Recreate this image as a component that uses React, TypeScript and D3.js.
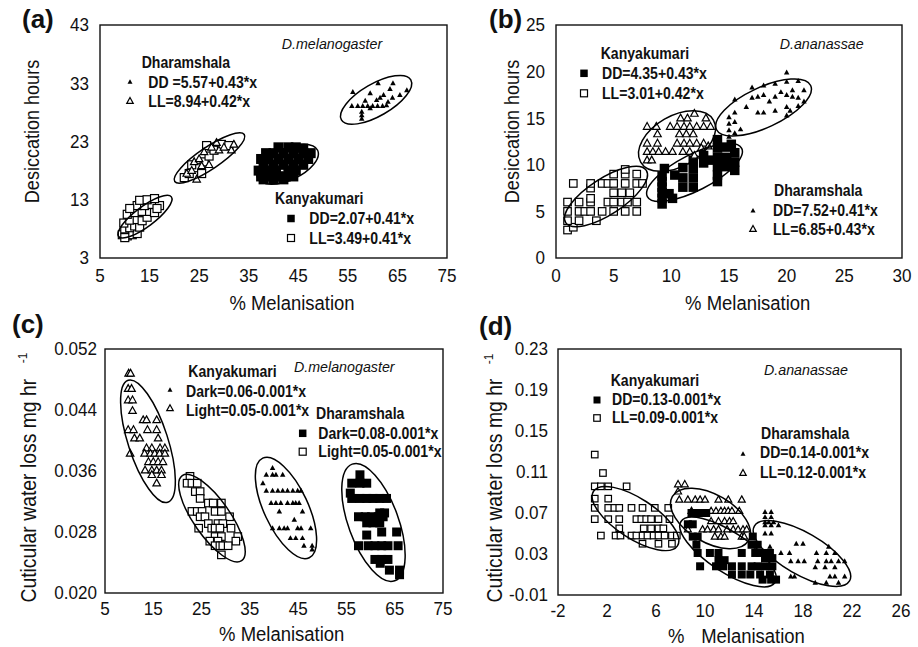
import React from "react";
import * as d3 from "d3";

type Pt = [number, number];
type Ell = [number, number, number, number, number]; // major-axis end points (data) + minor/major ratio

// ---------------- Panel (a): D.melanogaster, desiccation ----------------
const aXTicks = [5, 15, 25, 35, 45, 55, 65, 75];
const aYTicks = [3, 13, 23, 33, 43];
const aKanyakumariLL: Pt[] = [
  [9.5, 7], [10.5, 6.8], [11.5, 7], [12.5, 7.2], [10, 8], [11, 8.2], [12, 8.5], [13, 8.3], [9.8, 9], [11, 9.5],
  [12.5, 9.6], [13.5, 9.4], [14.5, 10], [10.5, 10.5], [12, 10.8], [13.5, 11], [15, 11], [16, 10.8], [12.5, 12],
  [14, 12], [15.5, 12.2], [17, 12], [13, 12.9], [14.5, 13], [16, 13.2], [16.5, 11.5], [11, 11.5], [10, 6.5],
  [22, 16.8], [23, 17.5], [24.5, 18.5], [26, 19.5], [25.5, 17.5], [27, 20.5], [28, 21.5], [29.5, 22.5], [31, 22.3],
  [26.5, 22.3], [23.5, 19],
];
const aDharamshalaLL: Pt[] = [
  [22.5, 17.5], [23.5, 18], [24, 19.5], [25, 20], [25.5, 18.8], [26, 21.2], [27, 19], [27.5, 22], [28.5, 22.8],
  [29, 21.5], [30, 22], [31.5, 21.5], [32, 22.5], [24.5, 16.5],
];
const aKanyakumariDD: Pt[] = [
  [41, 22], [43, 22], [44.5, 22], [46, 21.8], [38.5, 21], [40, 21], [42, 21], [44, 21], [46, 21], [47.5, 21],
  [37.5, 20], [39, 20], [41, 20], [43, 20], [45, 20], [47, 20], [38, 19], [40, 19], [42, 19], [44, 19], [46, 19],
  [37, 18], [38.5, 18], [40.5, 18], [43, 18], [44.5, 18], [37.5, 17], [39, 17], [41, 17], [42.5, 17], [44, 17],
  [38, 16.5], [40, 16.5], [42, 16.5],
];
const aDharamshalaDD: Pt[] = [
  [56, 31.5], [59.5, 31.3], [61.1, 33], [64.1, 33], [62.2, 31], [65.5, 31], [66.9, 31.8], [60.8, 30.1], [63.1, 29.8],
  [55.8, 29.1], [57, 29.1], [58, 29.1], [59, 29.1], [60, 29.1], [61, 29.1], [62, 29.1], [62.8, 29.2], [57.8, 28.1],
  [57.8, 27.5], [57.8, 26.9], [59.5, 28.7], [61.5, 30.5], [64, 30.5], [58.5, 30], [63.5, 32],
];
const aEllipses: Ell[] = [
  [8.75, 6.7, 19.4, 13.5, 0.3],
  [20.07, 16.13, 34.1, 24.2, 0.26],
  [36.8, 16.7, 48.9, 21.5, 0.48],
  [53.7, 26.7, 67.7, 33.6, 0.4],
];
const aSpecies = "D.melanogaster";
const aLegendDharamshala = ["Dharamshala", "DD =5.57+0.43*x", "LL=8.94+0.42*x"];
const aLegendKanyakumari = ["Kanyakumari", "DD=2.07+0.41*x", "LL=3.49+0.41*x"];

// ---------------- Panel (b): D.ananassae, desiccation ----------------
const bXTicks = [0, 5, 10, 15, 20, 25, 30];
const bYTicks = [0, 5, 10, 15, 20, 25];
const bKanyakumariLL: Pt[] = [
  [1, 3], [1.5, 3.3], [1, 4], [2, 4], [3.5, 4], [1, 5], [2, 5], [2.5, 5], [3, 5], [4, 5], [5, 5], [6, 5], [7, 5],
  [1, 6], [2, 6], [3, 6], [4.5, 6], [5, 6], [5.7, 6], [6.2, 6], [7, 6], [3, 6.4], [5, 7], [5.7, 7], [6.4, 7],
  [3, 7.5], [1.5, 8], [3, 8], [4, 8], [4.5, 8], [5, 8], [6, 8], [7, 8], [7.5, 8], [5, 9], [6, 9], [7, 9], [6, 9.5],
];
const bKanyakumariDD: Pt[] = [
  [9.2, 5.8], [9.2, 6.4], [9.2, 7], [9.2, 7.6], [9.2, 8.2], [9.2, 8.8], [9.4, 9.6], [9.8, 6.9], [10.1, 6.4],
  [10.3, 8.9], [11, 9.7], [11, 8.6], [11, 7.6], [11.9, 10.5], [11.9, 9.6], [11.9, 8.6], [11.9, 7.6], [12.8, 11],
  [12.8, 10.2], [14, 12.7], [14, 11.8], [14, 10.8], [14, 9.8], [14, 8.9], [14, 8.2], [14.8, 11.9], [14.8, 10.8],
  [14.8, 9.8], [15.5, 11.3], [15.5, 10.3], [15.5, 9.4], [13.4, 10.5], [15.2, 12.2],
];
const bDharamshalaLL: Pt[] = [
  [7.9, 14.1], [8.7, 14.1], [9.9, 14.1], [10.5, 14.1], [11.1, 14.1], [11.6, 14.1], [12.2, 14.1], [12.8, 14.1],
  [13.4, 14.1], [10.8, 15], [11.4, 15], [12, 15.5], [13, 15], [8.8, 13.3], [10.7, 13.3], [11.3, 13.3], [11.9, 13.3],
  [7.9, 12.3], [8.8, 12.3], [10.5, 12.3], [11.1, 12.3], [11.6, 12.3], [12.2, 12.3], [12.8, 12.3], [7.9, 11.4],
  [8.4, 11.4], [8.9, 11.4], [9.5, 11.4], [10.1, 11.4], [11, 11.4], [11.6, 11.4], [12.6, 11.8], [13.2, 12],
  [7.9, 10.5], [8.3, 10.5], [12, 11],
];
const bDharamshalaDD: Pt[] = [
  [15, 13], [15, 13.7], [15, 14.4], [15, 15.1], [15.5, 13.4], [15.5, 14.6], [15.5, 15.6], [15.5, 17], [16, 13.8],
  [16.5, 16.2], [17, 18.3], [17, 17.2], [17.5, 17.3], [17.5, 15.6], [18, 15.6], [18, 17.5], [18, 18.5], [18.5, 16.8],
  [19, 17.3], [19, 18.7], [19.5, 17.8], [20, 19.9], [20, 18.9], [20, 17.5], [20, 16.2], [20, 15.3], [20.5, 18],
  [20.5, 17.3], [21, 19], [21, 17.2], [21, 16.3], [21.5, 18], [21.5, 16.8], [20.3, 15.8], [19, 15.8],
];
const bEllipses: Ell[] = [
  [0.84, 3.79, 7.83, 9.41, 0.375],
  [7.92, 6.59, 16.1, 11.76, 0.34],
  [7.34, 10.3, 13.65, 14.8, 0.6],
  [13.91, 13.79, 22.08, 18.51, 0.385],
];
const bSpecies = "D.ananassae";
const bLegendKanyakumari = ["Kanyakumari", "DD=4.35+0.43*x", "LL=3.01+0.42*x"];
const bLegendDharamshala = ["Dharamshala", "DD=7.52+0.41*x", "LL=6.85+0.43*x"];

// ---------------- Panel (c): D.melanogaster, cuticular water loss ----------------
const cXTicks = [5, 15, 25, 35, 45, 55, 65, 75];
const cYTicks = [0.02, 0.028, 0.036, 0.044, 0.052];
const cKanyakumariLight: Pt[] = [
  [9.9, 0.0488], [10.3, 0.0488], [9.8, 0.0468], [10.5, 0.0468], [9.8, 0.0453], [10.7, 0.0453], [10.7, 0.0439],
  [12.9, 0.0427], [13.6, 0.0427], [15.7, 0.0427], [9.8, 0.0414], [10.9, 0.0414], [13.8, 0.0414], [15.7, 0.0414],
  [11.1, 0.0403], [12.2, 0.0403], [16, 0.0403], [13.6, 0.039], [14.7, 0.039], [16.4, 0.039], [17.4, 0.039],
  [10.2, 0.0383], [13.2, 0.0383], [14.4, 0.0383], [15.3, 0.0383], [16.3, 0.0383], [17.4, 0.0383], [14, 0.0372],
  [15, 0.0372], [16, 0.0372], [17, 0.0372], [13.3, 0.0361], [14.7, 0.0361], [15.7, 0.0361], [16.7, 0.0361],
  [14.7, 0.0355], [16.7, 0.0355], [15.7, 0.0344],
];
const cKanyakumariDark: Pt[] = [
  [39.7, 0.0364], [38.4, 0.0355], [39.7, 0.0355], [40.4, 0.0355], [41.8, 0.0355], [37.7, 0.0344], [38.4, 0.0334],
  [39.7, 0.0334], [40.8, 0.0334], [41.8, 0.0334], [42.8, 0.0334], [43.9, 0.0334], [44.9, 0.0334], [45.6, 0.0334],
  [39.4, 0.0318], [40.4, 0.0318], [41.4, 0.0318], [42.8, 0.0318], [43.9, 0.0318], [44.5, 0.0318], [45.2, 0.0318],
  [41.1, 0.0307], [45.9, 0.0307], [44.2, 0.0296], [39.7, 0.0285], [41.1, 0.0285], [42.1, 0.0285], [42.8, 0.0285],
  [44.9, 0.0285], [45.6, 0.0285], [47.6, 0.0285], [43.4, 0.0272], [44.5, 0.0272], [45.9, 0.0272], [46.2, 0.0262],
  [47.9, 0.0262], [47.9, 0.0257],
];
const cDharamshalaLight: Pt[] = [
  [22.6, 0.0353], [22.0, 0.0344], [23.0, 0.0344], [24.1, 0.0344], [23.7, 0.0333], [24.7, 0.0333], [24.7, 0.0324],
  [26.4, 0.0318], [27.4, 0.0318], [29.1, 0.0318], [23.0, 0.0307], [24.1, 0.0307], [25.1, 0.0307], [27.8, 0.0307],
  [29.1, 0.0307], [24.7, 0.03], [25.7, 0.03], [30.8, 0.03], [26.4, 0.0291], [28.4, 0.0291], [29.4, 0.0291],
  [24.4, 0.0285], [27.1, 0.0285], [27.8, 0.0285], [28.8, 0.0285], [31.1, 0.0285], [27.8, 0.0274], [29.1, 0.0274],
  [32.5, 0.0274], [26.7, 0.0268], [28.4, 0.0268], [32.1, 0.0268], [27.8, 0.0262], [28.8, 0.0262], [29.4, 0.0262],
  [30.5, 0.0262], [29.1, 0.025],
];
const cDharamshalaDark: Pt[] = [
  [57.8, 0.0355], [56.1, 0.0344], [57.8, 0.0344], [59.2, 0.0344], [55.8, 0.0331], [56.1, 0.0324], [57.8, 0.0324],
  [59.2, 0.0324], [60.5, 0.0324], [61.9, 0.0324], [63.3, 0.0324], [61.9, 0.0305], [62.9, 0.0305], [57.5, 0.03],
  [58.9, 0.03], [60.2, 0.03], [61.6, 0.03], [62.6, 0.03], [59.2, 0.0292], [60.5, 0.0292], [61.9, 0.0292],
  [62.3, 0.028], [65.4, 0.028], [59.2, 0.0276], [57.5, 0.0262], [59.5, 0.0262], [60.9, 0.0262], [62.3, 0.0262],
  [63.6, 0.0262], [65.7, 0.0262], [60.9, 0.0244], [62.3, 0.0244], [63.6, 0.0244], [62.0, 0.0239], [63.9, 0.023],
  [66, 0.023], [66, 0.0224],
];
const cEllipses: Ell[] = [
  [9.8, 0.0479, 18.0, 0.0319, 0.31],
  [21.0, 0.0354, 33.3, 0.02425, 0.35],
  [37.66, 0.03768, 47.3, 0.02462, 0.4],
  [56.2, 0.0369, 65.0, 0.0216, 0.403],
];
const cSpecies = "D.melanogaster";
const cLegendKanyakumari = ["Kanyakumari", "Dark=0.06-0.001*x", "Light=0.05-0.001*x"];
const cLegendDharamshala = ["Dharamshala", "Dark=0.08-0.001*x", "Light=0.05-0.001*x"];

// ---------------- Panel (d): D.ananassae, cuticular water loss ----------------
const dXTicks = [-2, 2, 6, 10, 14, 18, 22, 26];
const dYTicks = [-0.01, 0.03, 0.07, 0.11, 0.15, 0.19, 0.23];
const dKanyakumariLL: Pt[] = [
  [1.0, 0.127], [1.67, 0.109], [1.0, 0.096], [1.5, 0.096], [2.1, 0.096], [3.6, 0.096], [1.0, 0.084], [2.1, 0.084],
  [1.0, 0.075], [2.1, 0.075], [2.6, 0.075], [3.0, 0.075], [4.0, 0.075], [4.9, 0.075], [5.9, 0.075], [7.0, 0.075],
  [1.0, 0.064], [2.1, 0.064], [3.0, 0.064], [4.4, 0.064], [4.8, 0.064], [5.2, 0.064], [5.6, 0.064], [6.2, 0.064],
  [7.1, 0.064], [3.0, 0.055], [5.0, 0.055], [5.6, 0.055], [6.2, 0.055], [6.6, 0.055], [1.5, 0.048], [2.7, 0.048],
  [3.1, 0.048], [4.0, 0.048], [4.4, 0.048], [4.9, 0.048], [5.3, 0.048], [5.8, 0.048], [6.2, 0.048], [6.7, 0.048],
  [7.3, 0.048], [7.7, 0.048], [4.9, 0.04], [6.2, 0.04], [7.3, 0.04],
];
const dDharamshalaLL: Pt[] = [
  [7.8, 0.098], [8.35, 0.098], [7.8, 0.091], [7.9, 0.083], [8.6, 0.083], [9.2, 0.083], [9.6, 0.083], [10.0, 0.083],
  [11.1, 0.083], [11.9, 0.083], [13.0, 0.083], [8.9, 0.072], [10.5, 0.072], [10.9, 0.072], [11.3, 0.072],
  [11.6, 0.072], [11.9, 0.072], [12.2, 0.072], [12.8, 0.072], [10.5, 0.062], [11.1, 0.062], [11.6, 0.062],
  [12.0, 0.062], [12.3, 0.062], [8.6, 0.054], [9.8, 0.054], [10.2, 0.054], [10.7, 0.054], [11.1, 0.054],
  [11.8, 0.054], [12.3, 0.054], [12.7, 0.054], [13.1, 0.054], [13.4, 0.054], [10.8, 0.047], [11.3, 0.047],
  [11.6, 0.047], [13.0, 0.047], [13.2, 0.047],
];
const dKanyakumariDD: Pt[] = [
  [8.9, 0.07], [9.3, 0.07], [9.7, 0.07], [10.1, 0.07], [8.6, 0.059], [9.0, 0.059], [9.0, 0.047], [9.4, 0.047],
  [13.9, 0.047], [9.3, 0.039], [13.8, 0.039], [14.3, 0.039], [9.4, 0.031], [10.4, 0.031], [11.1, 0.031],
  [13.0, 0.031], [14.1, 0.031], [14.5, 0.031], [14.9, 0.031], [15.3, 0.031], [14.9, 0.026], [15.3, 0.026],
  [15.5, 0.026], [11.1, 0.024], [11.6, 0.024], [9.6, 0.018], [10.9, 0.018], [11.5, 0.018], [12.2, 0.018],
  [13.0, 0.018], [13.8, 0.018], [14.3, 0.018], [14.9, 0.018], [15.5, 0.018], [12.2, 0.01], [13.0, 0.01],
  [13.7, 0.01], [14.5, 0.01], [15.3, 0.01], [14.7, 0.005], [15.4, 0.005], [15.8, 0.005],
];
const dDharamshalaDD: Pt[] = [
  [14.9, 0.071], [15.4, 0.071], [14.9, 0.066], [15.4, 0.066], [14.9, 0.061], [15.2, 0.061], [15.6, 0.061],
  [14.9, 0.058], [15.4, 0.058], [16.0, 0.058], [14.9, 0.05], [15.4, 0.05], [17.45, 0.04], [18.0, 0.04],
  [15.3, 0.037], [20.1, 0.037], [16.2, 0.031], [16.9, 0.031], [19.1, 0.031], [19.9, 0.031], [20.6, 0.031],
  [17.0, 0.023], [17.6, 0.023], [18.1, 0.023], [19.2, 0.023], [19.9, 0.023], [20.3, 0.023], [20.9, 0.023],
  [21.4, 0.023], [19.0, 0.017], [19.8, 0.017], [20.6, 0.017], [17.0, 0.008], [17.3, 0.008], [20.2, 0.008],
  [20.6, 0.008], [21.4, 0.008], [19.0, 0.002], [19.9, 0.002], [20.9, 0.002],
];
const dEllipses: Ell[] = [
  [0.9, 0.0912, 7.75, 0.038, 0.4],
  [7.34, 0.0861, 13.56, 0.0432, 0.545],
  [8.04, 0.0617, 15.71, 0.0022, 0.357],
  [14.03, 0.0573, 21.8, 0.00366, 0.38],
];
const dSpecies = "D.ananassae";
const dLegendKanyakumari = ["Kanyakumari", "DD=0.13-0.001*x", "LL=0.09-0.001*x"];
const dLegendDharamshala = ["Dharamshala", "DD=0.14-0.001*x", "LL=0.12-0.001*x"];

const xTitle = "% Melanisation";
const yTitleDesiccation = "Desiccation hours";
const yTitleCuticular = "Cuticular water loss mg hr";
const yTitleSup = "-1";

// ---------------- rendering ----------------
const FONT = "'Liberation Sans', Arial, Helvetica, sans-serif";
const SX = 0.88; // horizontal condensation of the original narrow typeface
type Shape = "sqFill" | "sqOpen" | "triFill" | "triOpen";

function Marker({ shape, x, y, size }: { shape: Shape; x: number; y: number; size: number }) {
  if (shape === "sqFill") return <rect x={x - size / 2} y={y - size / 2} width={size} height={size} fill="#000" />;
  if (shape === "sqOpen")
    return <rect x={x - size / 2} y={y - size / 2} width={size} height={size} fill="#fff" stroke="#000" strokeWidth={1.2} />;
  const h = size * 0.9;
  const d = `M${x},${y - h * 0.6}L${x + size / 2},${y + h * 0.4}L${x - size / 2},${y + h * 0.4}Z`;
  if (shape === "triFill") return <path d={d} fill="#000" />;
  return <path d={d} fill="#fff" stroke="#000" strokeWidth={1.2} />;
}

type TextItem = { t: string; x: number; y: number; kind: "bold" | "italic" };
type LegMark = { shape: Shape; x: number; y: number; size: number };
type SeriesCfg = { pts: Pt[]; shape: Shape; size: number };

type PanelCfg = {
  label: string;
  labelPos: [number, number];
  box: { l: number; r: number; t: number; b: number };
  xDomain: [number, number];
  yDomain: [number, number];
  xTicks: number[];
  yTicks: number[];
  xFmt: (v: number) => string;
  yFmt: (v: number) => string;
  xTickDy: number;
  yTickDx: number;
  xTitlePos: [number, number];
  xTitleSplit?: boolean;
  yTitle: string;
  yTitlePos: [number, number];
  yTitleSize: number;
  supPos?: [number, number];
  series: SeriesCfg[];
  ellipses: Ell[];
  texts: TextItem[];
  legendMarks: LegMark[];
};

function Panel({ cfg }: { cfg: PanelCfg }) {
  const { box } = cfg;
  const x = d3.scaleLinear().domain(cfg.xDomain).range([box.l, box.r]);
  const y = d3.scaleLinear().domain(cfg.yDomain).range([box.b, box.t]);
  return (
    <g fontFamily={FONT}>
      {cfg.series.map((s, i) =>
        s.pts.map((p, j) => <Marker key={`${i}-${j}`} shape={s.shape} x={x(p[0])} y={y(p[1])} size={s.size} />)
      )}
      {cfg.ellipses.map((e, i) => {
        const x1 = x(e[0]), y1 = y(e[1]), x2 = x(e[2]), y2 = y(e[3]);
        const cx = (x1 + x2) / 2, cy = (y1 + y2) / 2;
        const a = Math.hypot(x2 - x1, y2 - y1) / 2;
        const ang = (Math.atan2(y2 - y1, x2 - x1) * 180) / Math.PI;
        return (
          <ellipse key={i} cx={cx} cy={cy} rx={a} ry={a * e[4]} transform={`rotate(${ang},${cx},${cy})`}
            fill="none" stroke="#000" strokeWidth={1.5} />
        );
      })}
      <rect x={box.l} y={box.t} width={box.r - box.l} height={box.b - box.t} fill="none" stroke="#111" strokeWidth={1.4} />
      {cfg.xTicks.map((t) => (
        <text key={t} transform={`translate(${x(t)},${box.b + cfg.xTickDy}) scale(0.95,1)`} textAnchor="middle" fontSize={18} fill="#111">{cfg.xFmt(t)}</text>
      ))}
      {cfg.yTicks.map((t) => (
        <text key={t} transform={`translate(${box.l - cfg.yTickDx},${y(t)}) scale(0.95,1)`} dy="0.36em" textAnchor="end" fontSize={18} fill="#111">{cfg.yFmt(t)}</text>
      ))}
      {cfg.xTitleSplit ? (
        <text transform={`translate(${cfg.xTitlePos[0]},${cfg.xTitlePos[1]}) scale(${SX},1)`} fontSize={21} fill="#111">
          <tspan>{xTitle.split(" ")[0]}</tspan>
          <tspan dx={19}>{xTitle.split(" ")[1]}</tspan>
        </text>
      ) : (
        <text transform={`translate(${cfg.xTitlePos[0]},${cfg.xTitlePos[1]}) scale(${SX},1)`} textAnchor="middle" fontSize={21} fill="#111">{xTitle}</text>
      )}
      <text transform={`translate(${cfg.yTitlePos[0]},${cfg.yTitlePos[1]}) rotate(-90) scale(${SX},1)`} textAnchor="middle"
        fontSize={cfg.yTitleSize} fill="#111">{cfg.yTitle}</text>
      {cfg.supPos && (
        <text transform={`translate(${cfg.supPos[0]},${cfg.supPos[1]}) rotate(-90)`} textAnchor="middle" fontSize={12} fill="#111">
          {yTitleSup}
        </text>
      )}
      {cfg.legendMarks.map((m, i) => <Marker key={`lm${i}`} shape={m.shape} x={m.x} y={m.y} size={m.size} />)}
      {cfg.texts.map((t, i) => (
        <text key={`t${i}`} transform={`translate(${t.x},${t.y}) scale(${t.kind === "bold" ? SX : 0.92},1)`}
          fontSize={t.kind === "bold" ? 16 : 15.5}
          fontWeight={t.kind === "bold" ? "bold" : "normal"} fontStyle={t.kind === "italic" ? "italic" : "normal"} fill="#111">
          {t.t}
        </text>
      ))}
      <text x={cfg.labelPos[0]} y={cfg.labelPos[1]} fontSize={26} fontWeight="bold" fill="#111">{cfg.label}</text>
    </g>
  );
}

const intFmt = (v: number) => String(v);

export default function App() {
  const panels: PanelCfg[] = [
    {
      label: "(a)", labelPos: [22, 28], box: { l: 100, r: 447, t: 25, b: 258 },
      xDomain: [5, 75], yDomain: [3, 43], xTicks: aXTicks, yTicks: aYTicks, xFmt: intFmt, yFmt: intFmt,
      xTickDy: 24, yTickDx: 11, xTitlePos: [292, 310], yTitle: yTitleDesiccation, yTitlePos: [39, 131.5], yTitleSize: 20.5,
      series: [
        { pts: aKanyakumariLL, shape: "sqOpen", size: 8 },
        { pts: aDharamshalaLL, shape: "triOpen", size: 7.5 },
        { pts: aKanyakumariDD, shape: "sqFill", size: 10 },
        { pts: aDharamshalaDD, shape: "triFill", size: 5.5 },
      ],
      ellipses: aEllipses,
      texts: [
        { t: aLegendDharamshala[0], x: 141.7, y: 68, kind: "bold" },
        { t: aLegendDharamshala[1], x: 148.3, y: 87.5, kind: "bold" },
        { t: aLegendDharamshala[2], x: 148.3, y: 107, kind: "bold" },
        { t: aSpecies, x: 281.7, y: 49, kind: "italic" },
        { t: aLegendKanyakumari[0], x: 275, y: 204, kind: "bold" },
        { t: aLegendKanyakumari[1], x: 309.3, y: 224, kind: "bold" },
        { t: aLegendKanyakumari[2], x: 309.3, y: 244, kind: "bold" },
      ],
      legendMarks: [
        { shape: "triFill", x: 130, y: 82, size: 5 },
        { shape: "triOpen", x: 130, y: 101, size: 6.5 },
        { shape: "sqFill", x: 291, y: 218.5, size: 7.5 },
        { shape: "sqOpen", x: 291, y: 238, size: 7 },
      ],
    },
    {
      label: "(b)", labelPos: [489, 28], box: { l: 556, r: 902, t: 25, b: 258 },
      xDomain: [0, 30], yDomain: [0, 25], xTicks: bXTicks, yTicks: bYTicks, xFmt: intFmt, yFmt: intFmt,
      xTickDy: 24, yTickDx: 11, xTitlePos: [747.7, 310], yTitle: yTitleDesiccation, yTitlePos: [519, 131.5], yTitleSize: 20.5,
      series: [
        { pts: bKanyakumariLL, shape: "sqOpen", size: 7.5 },
        { pts: bKanyakumariDD, shape: "sqFill", size: 9.5 },
        { pts: bDharamshalaLL, shape: "triOpen", size: 7.5 },
        { pts: bDharamshalaDD, shape: "triFill", size: 5.5 },
      ],
      ellipses: bEllipses,
      texts: [
        { t: bLegendKanyakumari[0], x: 600.7, y: 59, kind: "bold" },
        { t: bLegendKanyakumari[1], x: 602, y: 79, kind: "bold" },
        { t: bLegendKanyakumari[2], x: 602, y: 99, kind: "bold" },
        { t: bSpecies, x: 779.7, y: 49, kind: "italic" },
        { t: bLegendDharamshala[0], x: 774, y: 196, kind: "bold" },
        { t: bLegendDharamshala[1], x: 773, y: 216, kind: "bold" },
        { t: bLegendDharamshala[2], x: 773, y: 235, kind: "bold" },
      ],
      legendMarks: [
        { shape: "sqFill", x: 584, y: 73.3, size: 7.5 },
        { shape: "sqOpen", x: 584, y: 93.3, size: 7 },
        { shape: "triFill", x: 753, y: 210.7, size: 5 },
        { shape: "triOpen", x: 753, y: 229, size: 6.5 },
      ],
    },
    {
      label: "(c)", labelPos: [12, 333], box: { l: 105, r: 443, t: 349, b: 593 },
      xDomain: [5, 75], yDomain: [0.02, 0.052], xTicks: cXTicks, yTicks: cYTicks, xFmt: intFmt,
      yFmt: (v) => v.toFixed(3),
      xTickDy: 22, yTickDx: 8, xTitlePos: [281.7, 641], yTitle: yTitleCuticular, yTitlePos: [36, 490.7], yTitleSize: 22,
      supPos: [27, 358],
      series: [
        { pts: cKanyakumariLight, shape: "triOpen", size: 7.5 },
        { pts: cKanyakumariDark, shape: "triFill", size: 5.5 },
        { pts: cDharamshalaLight, shape: "sqOpen", size: 7.5 },
        { pts: cDharamshalaDark, shape: "sqFill", size: 9 },
      ],
      ellipses: cEllipses,
      texts: [
        { t: cLegendKanyakumari[0], x: 188.3, y: 377.3, kind: "bold" },
        { t: cLegendKanyakumari[1], x: 186, y: 396.7, kind: "bold" },
        { t: cLegendKanyakumari[2], x: 186, y: 415.7, kind: "bold" },
        { t: cSpecies, x: 294, y: 371.7, kind: "italic" },
        { t: cLegendDharamshala[0], x: 316, y: 419.3, kind: "bold" },
        { t: cLegendDharamshala[1], x: 318.3, y: 439, kind: "bold" },
        { t: cLegendDharamshala[2], x: 318.3, y: 457.3, kind: "bold" },
      ],
      legendMarks: [
        { shape: "triFill", x: 170, y: 390, size: 5 },
        { shape: "triOpen", x: 170, y: 408.3, size: 6.5 },
        { shape: "sqFill", x: 302.7, y: 433.3, size: 7.5 },
        { shape: "sqOpen", x: 302.7, y: 451.7, size: 7 },
      ],
    },
    {
      label: "(d)", labelPos: [479, 334.5], box: { l: 558, r: 901, t: 349, b: 595 },
      xDomain: [-2, 26], yDomain: [-0.01, 0.23], xTicks: dXTicks, yTicks: dYTicks, xFmt: intFmt,
      yFmt: (v) => v.toFixed(2),
      xTickDy: 22, yTickDx: 10, xTitlePos: [668, 643], xTitleSplit: true, yTitle: yTitleCuticular,
      yTitlePos: [502, 490.5], yTitleSize: 22, supPos: [493, 359],
      series: [
        { pts: dKanyakumariLL, shape: "sqOpen", size: 6.5 },
        { pts: dDharamshalaLL, shape: "triOpen", size: 7 },
        { pts: dKanyakumariDD, shape: "sqFill", size: 8 },
        { pts: dDharamshalaDD, shape: "triFill", size: 5.5 },
      ],
      ellipses: dEllipses,
      texts: [
        { t: dLegendKanyakumari[0], x: 610.7, y: 386, kind: "bold" },
        { t: dLegendKanyakumari[1], x: 612, y: 405, kind: "bold" },
        { t: dLegendKanyakumari[2], x: 612, y: 423, kind: "bold" },
        { t: dSpecies, x: 764, y: 375, kind: "italic" },
        { t: dLegendDharamshala[0], x: 761, y: 439, kind: "bold" },
        { t: dLegendDharamshala[1], x: 760, y: 458, kind: "bold" },
        { t: dLegendDharamshala[2], x: 760, y: 478, kind: "bold" },
      ],
      legendMarks: [
        { shape: "sqFill", x: 597, y: 400, size: 7 },
        { shape: "sqOpen", x: 597, y: 418, size: 6.5 },
        { shape: "triFill", x: 743, y: 454, size: 5 },
        { shape: "triOpen", x: 743, y: 473, size: 6.5 },
      ],
    },
  ];
  return (
    <svg width={918} height={647} viewBox="0 0 918 647" style={{ position: "absolute", left: 0, top: 0, background: "#fff" }}>
      <rect x={0} y={0} width={918} height={647} fill="#fff" />
      {panels.map((p) => <Panel key={p.label} cfg={p} />)}
    </svg>
  );
}
